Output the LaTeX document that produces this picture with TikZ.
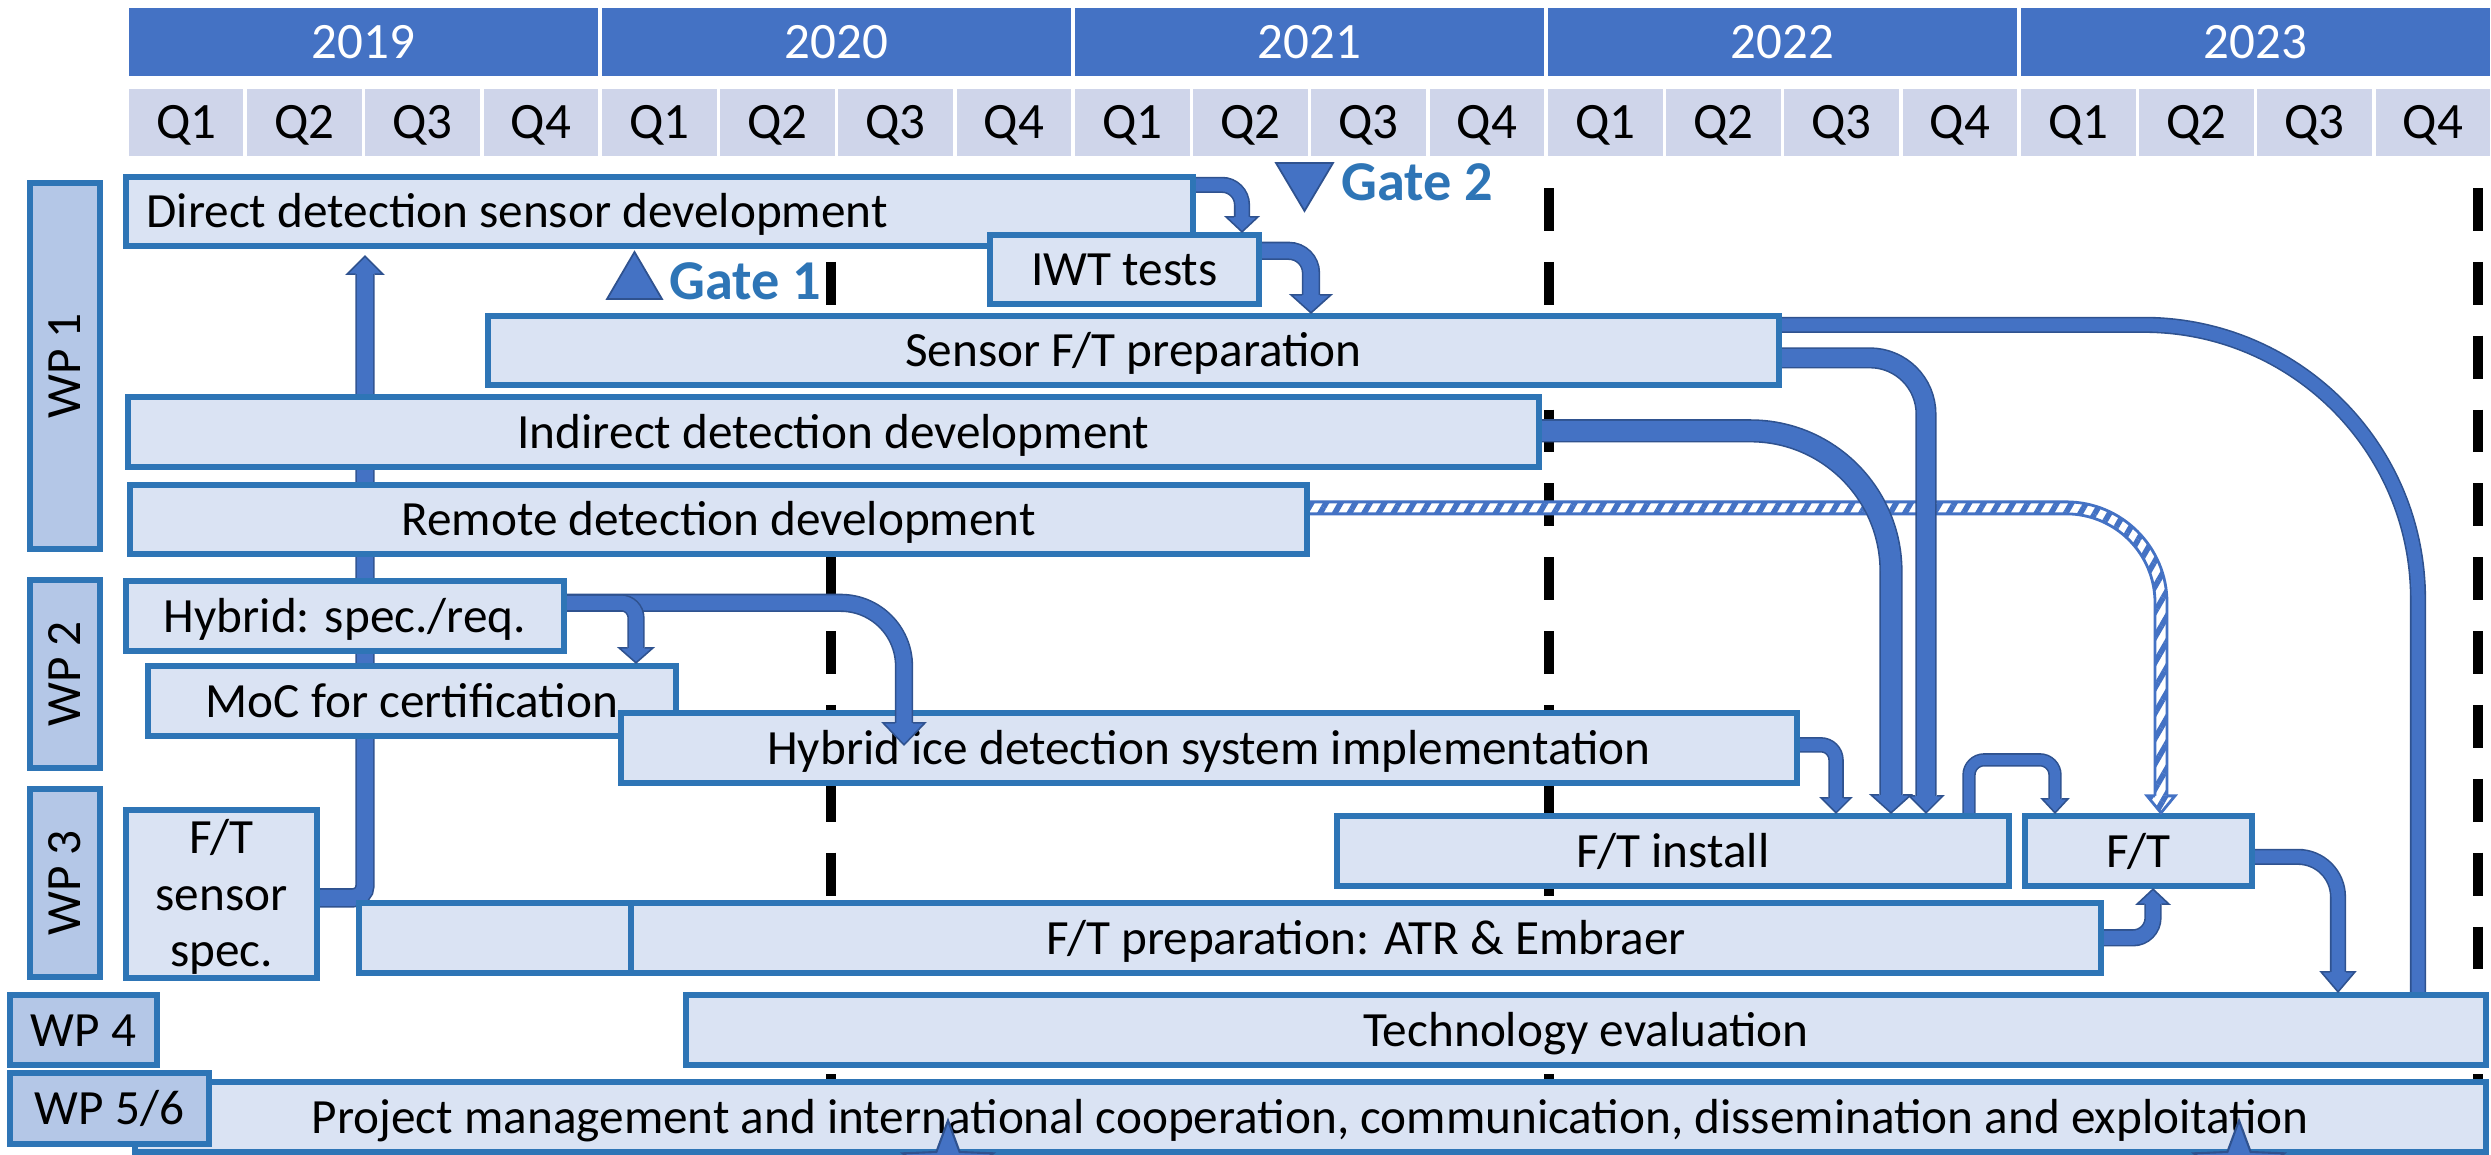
\documentclass[tikz,border=0pt]{standalone}
\usepackage{fontspec}
\setmainfont{Carlito}
\usetikzlibrary{calc,shapes.geometric,patterns.meta,backgrounds}
\definecolor{hdr}{HTML}{4472C4}
\definecolor{qfill}{HTML}{CFD5EA}
\definecolor{taskfill}{HTML}{DAE3F3}
\definecolor{wpfill}{HTML}{B4C7E7}
\definecolor{bord}{HTML}{2E75B6}
\definecolor{afill}{HTML}{4472C4}
\definecolor{aborder}{HTML}{2F528F}
\definecolor{gatec}{HTML}{2E75B6}
\newcommand\tsk{\fontsize{14}{16.2}\selectfont}
\newcommand\hdrfont{\fontsize{14.5}{17}\selectfont}
% box: [style]{name}{x1}{y1}{x2}{y2}{text}  (pixel units, y downward)
\newcommand\tbox[7][]{\node[#1, minimum width={(#5-#3)*0.01cm}, minimum height={(#6-#4)*0.01cm}] (#2) at ({(#3+#5)/2},{(#4+#6)/2}) {#7};}
% arrow heads: apex coordinate, half width, length, half shaft
\newcommand\headdown[4]{%
  \fill[afill] ($(#1)+(-#2,-#3)$) -- (#1) -- ($(#1)+(#2,-#3)$) -- cycle;
  \draw[aborder,line width=0.45pt] ($(#1)+(-#4,-#3)$) -- ($(#1)+(-#2,-#3)$) -- (#1) -- ($(#1)+(#2,-#3)$) -- ($(#1)+(#4,-#3)$);}
\newcommand\headup[4]{%
  \fill[afill] ($(#1)+(-#2,#3)$) -- (#1) -- ($(#1)+(#2,#3)$) -- cycle;
  \draw[aborder,line width=0.45pt] ($(#1)+(-#4,#3)$) -- ($(#1)+(-#2,#3)$) -- (#1) -- ($(#1)+(#2,#3)$) -- ($(#1)+(#4,#3)$);}
\newcommand\hatchband{($(a10s)+(0,-6)$) -- ($(a10c)+(-95,-6)$) .. controls ($(a10c)+(-39.2,-6)$) and ($(a10c)+(6,39.2)$) .. ($(a10c)+(6,95)$) -- ($(a10e)+(6,-16)$) -- ($(a10e)+(-6,-16)$) -- ($(a10c)+(-6,95)$) .. controls ($(a10c)+(-6,45.8)$) and ($(a10c)+(-45.8,6)$) .. ($(a10c)+(-95,6)$) -- ($(a10s)+(0,6)$) -- cycle}
\newcommand\hatchhead{($(a10e)+(-14,-17)$) -- (a10e) -- ($(a10e)+(14,-17)$) -- cycle}
\begin{document}
\begin{tikzpicture}[x=0.01cm,y=-0.01cm,
  task/.style={draw=bord, fill=taskfill, line width=1.8pt, inner sep=0pt, font=\tsk},
  oneline/.style={text height=9.1pt, text depth=0pt},
  wp/.style={draw=bord, fill=wpfill, line width=1.8pt, inner sep=0pt, font=\tsk},
  yearcell/.style={fill=hdr, draw=white, line width=1pt, inner sep=0pt, text=white, font=\hdrfont, text height=9.3pt, text depth=0pt},
  qcell/.style={fill=qfill, draw=white, line width=1pt, inner sep=0pt, font=\hdrfont, text height=9.3pt, text depth=0pt},
  vdash/.style={line width=2.8pt, dash pattern=on 12.2pt off 8.8pt},
  shaft/.style={draw=aborder, line width=0.45pt, double=afill, double distance=#1},
  gate/.style={fill=afill, draw=aborder, line width=0.5pt},
  gatetext/.style={text=gatec, font=\fontsize{16}{19}\selectfont\bfseries, inner sep=0pt, text height=10.4pt, text depth=0pt, anchor=west},
  hatch/.style={pattern={Lines[angle=60,distance=3.6pt,line width=1.6pt]}, pattern color=afill},
  mstar/.style={star, star points=5, star point ratio=2.4, minimum size=0.95cm, inner sep=0pt, fill=afill, draw=aborder, line width=0.6pt}
]
\useasboundingbox (0,0) rectangle (2491,1154);
\clip (0,0) rectangle (2491,1154);
% header
\foreach \y [count=\i from 0] in {2019,2020,2021,2022,2023}{
  \pgfmathsetmacro\xa{127+473*\i}
  \pgfmathsetmacro\xb{127+473*(\i+1)}
  \tbox[yearcell]{yr\y}{\xa}{6}{\xb}{78}{\y}
}
\foreach \q in {0,...,19}{
  \pgfmathsetmacro\xa{127+118.25*\q}
  \pgfmathsetmacro\xb{127+118.25*(\q+1)}
  \pgfmathtruncatemacro\qn{mod(\q,4)+1}
  \tbox[qcell]{qc\q}{\xa}{87}{\xb}{158}{Q\qn}
}
% task boxes
\tbox[task]{dd}{126}{177}{1193}{246}{}
\node[font=\tsk, oneline, inner sep=0pt, anchor=west] (ddt) at ($(dd.west)+(23,0)$) {Direct detection sensor development};
\tbox[task,oneline]{iwt}{990}{235}{1259}{304}{IWT tests}
\tbox[task,oneline]{sens}{488}{316}{1779}{385}{Sensor F/T preparation}
\tbox[task,oneline]{ind}{128}{397}{1539}{467}{Indirect detection development}
\tbox[task,oneline]{rem}{130}{485}{1307}{554}{Remote detection development}
\tbox[task,oneline]{hs}{126}{581}{564}{651}{Hybrid: spec./req.}
\tbox[task,oneline]{moc}{148}{666}{676}{736}{MoC for certification}
\tbox[task,oneline]{hie}{621}{713}{1797}{783}{Hybrid ice detection system implementation}
\tbox[task, align=center, text height=41.5pt, text depth=0pt]{ftss}{126}{810}{317}{978}{F/T\\sensor\\spec.}
\tbox[task]{atr0}{359}{903}{631}{973}{}
\tbox[task,oneline]{atr}{631}{903}{2101}{973}{F/T preparation: ATR \& Embraer}
\tbox[task,oneline]{ftin}{1337}{816}{2009}{886}{F/T install}
\tbox[task,oneline]{ft}{2025}{816}{2252}{886}{F/T}
\tbox[task,oneline]{tech}{686}{995}{2486}{1065}{Technology evaluation}
\tbox[task,oneline]{pm}{135}{1082}{2486}{1152}{Project management and international cooperation, communication, dissemination and exploitation}
% work package labels
\tbox[wp]{wp1}{30}{183}{100}{549}{\rotatebox{90}{WP 1}}
\tbox[wp]{wp2}{30}{580}{100}{768}{\rotatebox{90}{WP 2}}
\tbox[wp]{wp3}{30}{789}{100}{977}{\rotatebox{90}{WP 3}}
\tbox[wp,oneline]{wp4}{10}{995}{157}{1065}{WP 4}
\tbox[wp,oneline]{wp56}{10}{1073}{209}{1144}{WP 5/6}
% background: dashed lines and arrow behind boxes
\begin{pgfonlayer}{background}
  \foreach \xx in {831,1549,2478} \draw[vdash] (\xx,188) -- (\xx,1154);
  \coordinate (a3s) at ($(ftss.north east)+(0,91)$);
  \coordinate (a3e) at ($(365,0 |- dd.south)+(0,7)$);
  \draw[shaft=4.6pt, rounded corners=3.4pt] (a3s) -- (a3s -| a3e) -- ($(a3e)+(0,16)$);
  \headup{a3e}{18}{18}{9.5}
\end{pgfonlayer}
% A1
\coordinate (a1s) at ($(dd.north east)+(0,11)$);
\coordinate (a1e) at (1242,0 |- iwt.north);
\draw[shaft=3.7pt, rounded corners=5.7pt] (a1s) -- (a1s -| a1e) -- ($(a1e)+(0,-13)$);
\headdown{a1e}{16}{15}{8}
% A2
\coordinate (a2s) at ($(iwt.north east)+(0,19)$);
\coordinate (a2e) at (1311,0 |- sens.north);
\draw[shaft=4.3pt, rounded corners=6.3pt] (a2s) -- (a2s -| a2e) -- ($(a2e)+(0,-16)$);
\headdown{a2e}{20}{18}{9}
% A4, A5
\coordinate (a4s) at ($(hs.north east)+(0,25)$);
\coordinate (a4e) at (636,0 |- moc.north);
\coordinate (a5e) at ($(904,0 |- hie.north)+(0,35)$);
\draw[shaft=4.3pt, rounded corners=18pt] (a4s) -- (a4s -| a5e) -- ($(a5e)+(0,-20)$);
\headdown{a5e}{21}{22}{9}
\draw[shaft=4pt, rounded corners=4.3pt] (a4s) -- (a4s -| a4e) -- ($(a4e)+(0,-13)$);
\headdown{a4e}{17}{15}{8.5}
% A6
\coordinate (a6s) at ($(hie.north east)+(0,35)$);
\coordinate (a6e) at (1836,0 |- ftin.north);
\draw[shaft=3.5pt, rounded corners=4.3pt] (a6s) -- (a6s -| a6e) -- ($(a6e)+(0,-13)$);
\headdown{a6e}{15}{15}{7.5}
% A10 hatched
\coordinate (a10s) at ($(rem.north east)+(0,26)$);
\coordinate (a10e) at (2161,0 |- ft.north);
\coordinate (a10c) at (a10s -| a10e);
\fill[white] \hatchband;
\fill[hatch] \hatchband;
\draw[afill, line width=0.8pt] ($(a10s)+(0,-6)$) -- ($(a10c)+(-95,-6)$) .. controls ($(a10c)+(-39.2,-6)$) and ($(a10c)+(6,39.2)$) .. ($(a10c)+(6,95)$) -- ($(a10e)+(6,-17)$);
\draw[afill, line width=0.8pt] ($(a10e)+(-6,-17)$) -- ($(a10c)+(-6,95)$) .. controls ($(a10c)+(-6,45.8)$) and ($(a10c)+(-45.8,6)$) .. ($(a10c)+(-95,6)$) -- ($(a10s)+(0,6)$);
\fill[white] \hatchhead;
\fill[hatch] \hatchhead;
\draw[afill, line width=0.8pt] ($(a10e)+(-6,-17)$) -- ($(a10e)+(-14,-17)$) -- (a10e) -- ($(a10e)+(14,-17)$) -- ($(a10e)+(6,-17)$);
% A7
\coordinate (a7s) at ($(ind.north east)+(0,37)$);
\coordinate (a7e) at (1891,0 |- ftin.north);
\draw[shaft=5.7pt, rounded corners=40pt] (a7s) -- (a7s -| a7e) -- ($(a7e)+(0,-16)$);
\headdown{a7e}{20}{18}{12}
% A8
\coordinate (a8s) at ($(sens.north east)+(0,45)$);
\coordinate (a8e) at (1926,0 |- ftin.north);
\draw[shaft=5.1pt, rounded corners=16pt] (a8s) -- (a8s -| a8e) -- ($(a8e)+(0,-15)$);
\headdown{a8e}{17}{17}{11}
% A9
\coordinate (a9s) at ($(sens.north east)+(0,12)$);
\coordinate (a9e) at (2418,0 |- tech.north);
\draw[shaft=3.7pt, rounded corners=78pt] (a9s) -- (a9s -| a9e) -- (a9e);
% A11
\coordinate (a11s) at (1969,0 |- ftin.north);
\coordinate (a11t) at ($(a11s)+(0,-53)$);
\coordinate (a11e) at (2055,0 |- ft.north);
\draw[shaft=2.9pt, rounded corners=4.3pt] (a11s) -- (a11t) -- (a11t -| a11e) -- ($(a11e)+(0,-12)$);
\headdown{a11e}{13}{14}{6.5}
% A12
\coordinate (a12s) at ($(ft.north east)+(0,44)$);
\coordinate (a12e) at (2338,0 |- tech.north);
\draw[shaft=3.7pt, rounded corners=11.4pt] (a12s) -- (a12s -| a12e) -- ($(a12e)+(0,-18)$);
\headdown{a12e}{17}{20}{8}
% A13
\coordinate (a13s) at ($(atr.north east)+(0,38)$);
\coordinate (a13e) at (2153,0 |- ft.south);
\draw[shaft=4pt, rounded corners=5.7pt] (a13s) -- (a13s -| a13e) -- ($(a13e)+(0,13)$);
\headup{a13e}{16}{15}{8.5}
% gates
\filldraw[gate] (607,299) -- (662,299) -- (634.5,252) -- cycle;
\node[gatetext] (g1) at (669,281) {Gate 1};
\filldraw[gate] (1276,163) -- (1333,163) -- (1304.5,211) -- cycle;
\node[gatetext] (g2) at (1341,182) {Gate 2};
% stars
\node[mstar] (st1) at (948,1168) {};
\node[mstar] (st2) at (2239,1168) {};
\end{tikzpicture}
\end{document}
